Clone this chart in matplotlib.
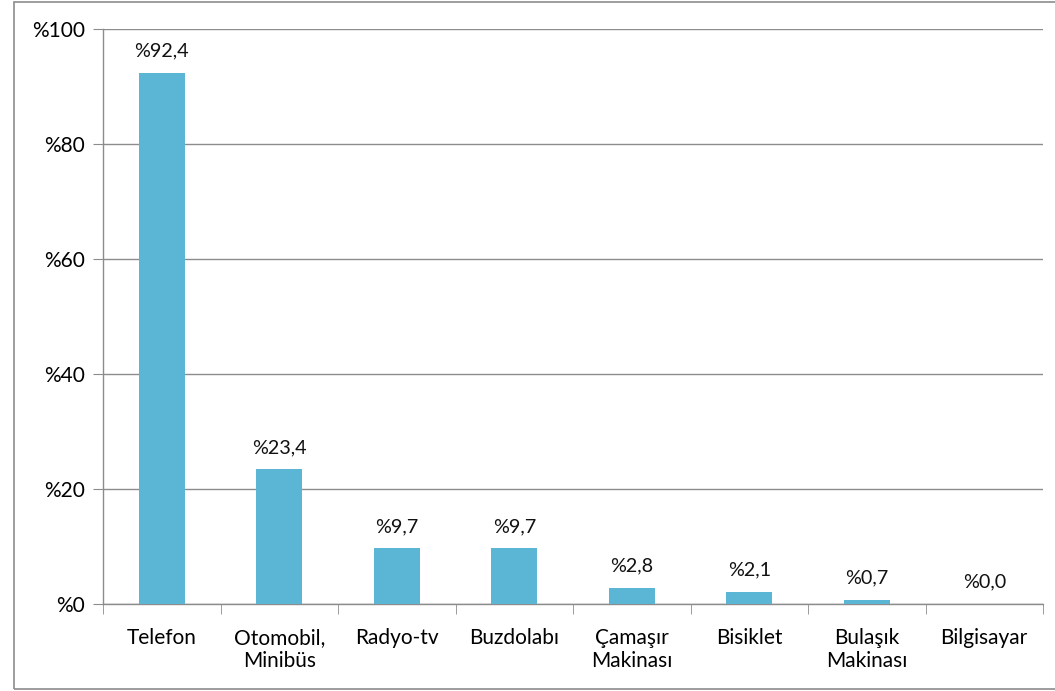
import matplotlib
matplotlib.use('Agg')
import matplotlib.pyplot as plt
from matplotlib.patches import Rectangle

categories = ['Telefon', 'Otomobil,\nMinibüs', 'Radyo-tv', 'Buzdolabı', 'Çamaşır\nMakinası',
              'Bisiklet', 'Bulaşık\nMakinası', 'Bilgisayar']
values = [92.4, 23.4, 9.7, 9.7, 2.8, 2.1, 0.7, 0.0]
labels = ['%92,4', '%23,4', '%9,7', '%9,7', '%2,8', '%2,1', '%0,7', '%0,0']
yticks = [0, 20, 40, 60, 80, 100]

plt.rcParams['font.family'] = ['Lato', 'DejaVu Sans']
grid_col = '#8c8c8c'

fig = plt.figure(figsize=(10.55, 6.91), dpi=100)
ax = fig.add_axes([103 / 1055, 1 - 604 / 691, 940 / 1055, 575 / 691])

# çerçeve
fig.patches.append(Rectangle((14 / 1055, 2 / 691), 1.1, 687 / 691, transform=fig.transFigure,
                             fill=False, edgecolor='#8c8c8c', linewidth=1.2))

x = list(range(len(categories)))
ax.bar(x, values, width=0.39, color='#5bb5d4', zorder=3)
for xi, v, lab in zip(x, values, labels):
    ax.text(xi, v + 2.3, lab, ha='center', va='bottom', fontsize=14.2, color='#111111')

ax.set_xlim(-0.5, len(categories) - 0.5)
ax.set_ylim(0, 100)
ax.set_yticks(yticks)
ax.set_yticklabels(['%' + str(t) for t in yticks], fontsize=15)
ax.set_xticks(x)
ax.set_xticklabels(categories, fontsize=15, linespacing=1.2)
ax.set_xticks([i - 0.5 for i in range(len(categories) + 1)], minor=True)
ax.tick_params(axis='x', which='major', length=0, pad=17)
ax.tick_params(axis='x', which='minor', length=7, color=grid_col)
ax.tick_params(axis='y', length=7, color=grid_col, pad=6)
ax.grid(axis='y', color=grid_col, linewidth=1, zorder=0)
for s in ['top', 'right']:
    ax.spines[s].set_visible(False)
for s in ['left', 'bottom']:
    ax.spines[s].set_color(grid_col)
ax.spines['left'].set_linewidth(1)
ax.spines['bottom'].set_linewidth(1)

fig.savefig('out.png', dpi=100)
